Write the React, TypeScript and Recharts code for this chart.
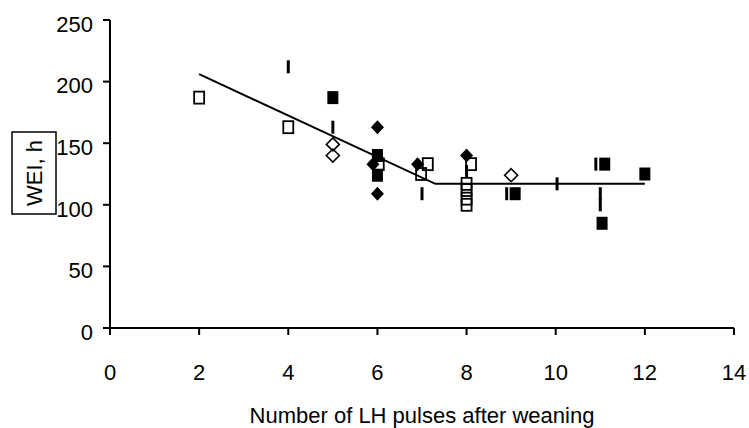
import React from "react";
import { ScatterChart, Scatter, XAxis, YAxis, Label } from "recharts";

const xTicks = [0, 2, 4, 6, 8, 10, 12, 14];
const yTicks = [0, 50, 100, 150, 200, 250];

// points: [pulses, WEI h]
const openSquares = [
  [2, 187], [4, 163], [6.03, 133], [7.13, 133], [6.98, 125], [8.1, 133],
  [8, 117], [8, 112], [8, 105], [8, 100],
];
const filledSquares = [
  [5, 187], [6, 140], [6, 124], [9.09, 109], [11.1, 133], [12, 125], [11.04, 85],
];
const openDiamonds = [[5, 149], [5, 140], [9, 124]];
const filledDiamonds = [[6, 163], [6, 109], [5.9, 133], [6.9, 133], [8, 140]];
const dashes = [
  [4, 212], [5, 163], [7, 109], [8, 127], [8.9, 109], [10.03, 117],
  [11, 109], [11, 100], [10.9, 133],
];
const trend = [[2, 206], [7.3, 117], [12, 117]];

const toPts = (arr: number[][]) => arr.map(([x, y]) => ({ x, y }));

const font = "'Liberation Sans', Arial, sans-serif";

const OpenSquare = ({ cx, cy }: any) => (
  <rect x={cx - 5} y={cy - 6} width={10} height={12} fill="none" stroke="#000" strokeWidth={1.8} />
);
const FilledSquare = ({ cx, cy }: any) => (
  <rect x={cx - 5.5} y={cy - 6.5} width={11} height={13} fill="#000" />
);
const OpenDiamond = ({ cx, cy }: any) => (
  <path d={`M${cx},${cy - 6.5}L${cx + 6.5},${cy}L${cx},${cy + 6.5}L${cx - 6.5},${cy}Z`} fill="none" stroke="#000" strokeWidth={1.6} />
);
const FilledDiamond = ({ cx, cy }: any) => (
  <path d={`M${cx},${cy - 7}L${cx + 6.5},${cy}L${cx},${cy + 7}L${cx - 6.5},${cy}Z`} fill="#000" />
);
const Dash = ({ cx, cy }: any) => (
  <rect x={cx - 1.5} y={cy - 6.5} width={3} height={13} fill="#000" />
);
const NoDot = () => <g />;

const YLabel = () => (
  <g>
    <rect x={12} y={132} width={44} height={82} fill="#fff" stroke="#000" strokeWidth={1.5} />
    <text
      x={0}
      y={0}
      transform="translate(42,173) rotate(-90)"
      textAnchor="middle"
      fontFamily={font}
      fontSize={22}
      fill="#000"
    >
      WEI, h
    </text>
  </g>
);

export default function App() {
  return (
    <div style={{ position: "absolute", left: 0, top: 0, background: "#fff" }}>
      <ScatterChart width={749} height={428} margin={{ top: 20, right: 15, bottom: 40, left: 50 }}>
        <XAxis
          type="number"
          dataKey="x"
          domain={[0, 14]}
          ticks={xTicks}
          interval={0}
          allowDataOverflow
          stroke="#000"
          strokeWidth={2}
          tickSize={7}
          tickMargin={29}
          height={60}
          tick={{ fill: "#000", fontSize: 22, fontFamily: font }}
        >
          <Label
            value="Number of LH pulses after weaning"
            position="bottom"
            offset={19}
            style={{ fill: "#000", fontSize: 22, fontFamily: font }}
          />
        </XAxis>
        <YAxis
          type="number"
          dataKey="y"
          domain={[0, 250]}
          ticks={yTicks}
          interval={0}
          allowDataOverflow
          stroke="#000"
          strokeWidth={2}
          tickSize={7}
          tickMargin={10}
          width={60}
          tick={{ fill: "#000", fontSize: 22, fontFamily: font, dy: 4 }}
        >
          <Label content={<YLabel />} />
        </YAxis>
        <Scatter data={toPts(trend)} line={{ stroke: "#000", strokeWidth: 2 }} shape={<NoDot />} isAnimationActive={false} />
        <Scatter data={toPts(openSquares)} shape={<OpenSquare />} isAnimationActive={false} />
        <Scatter data={toPts(openDiamonds)} shape={<OpenDiamond />} isAnimationActive={false} />
        <Scatter data={toPts(dashes)} shape={<Dash />} isAnimationActive={false} />
        <Scatter data={toPts(filledDiamonds)} shape={<FilledDiamond />} isAnimationActive={false} />
        <Scatter data={toPts(filledSquares)} shape={<FilledSquare />} isAnimationActive={false} />
      </ScatterChart>
    </div>
  );
}
